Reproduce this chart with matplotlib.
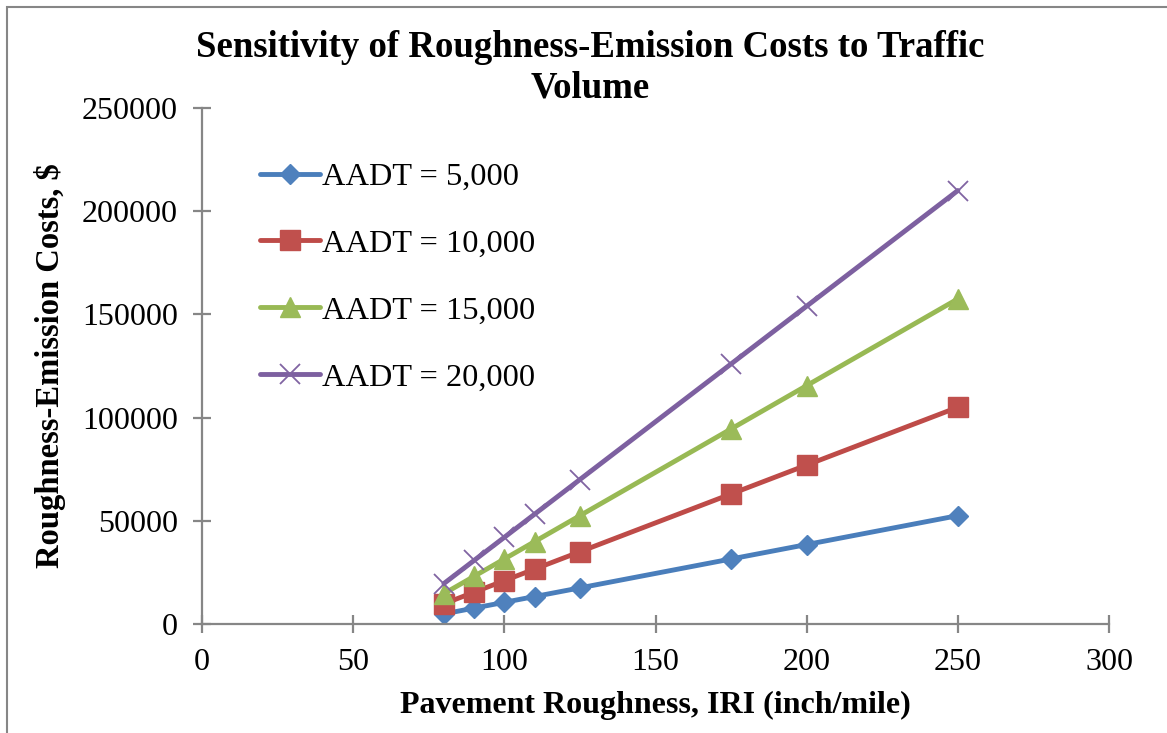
import matplotlib
matplotlib.use("Agg")
import matplotlib.pyplot as plt
from matplotlib.patches import Rectangle

# IRI values (inch/mile) and roughness-emission costs ($) per traffic volume
iri = [80, 90, 100, 110, 125, 175, 200, 250]
cost_5000 = [4900, 7700, 10500, 13300, 17500, 31500, 38500, 52500]
cost_10000 = [9800, 15400, 21000, 26600, 35000, 63000, 77000, 105000]
cost_15000 = [14700, 23100, 31500, 39900, 52500, 94500, 115500, 157500]
cost_20000 = [19600, 30800, 42000, 53200, 70000, 126000, 154000, 210000]
labels = ["AADT = 5,000", "AADT = 10,000", "AADT = 15,000", "AADT = 20,000"]

plt.rcParams["font.family"] = ["Liberation Serif", "DejaVu Serif"]

fig = plt.figure(figsize=(11.67, 7.33), dpi=100)
ax = fig.add_axes([0.1731, 0.1487, 0.7772, 0.7040])

styles = [
    dict(color="#4A7EBB", marker="D", markersize=10.5, mfc="#4F81BD", mec="#4F81BD"),
    dict(color="#BE4B48", marker="s", markersize=14, mfc="#C0504D", mec="#C0504D"),
    dict(color="#98B954", marker="^", markersize=14.5, mfc="#9BBB59", mec="#9BBB59"),
    dict(color="#7D60A0", marker="x", markersize=14.5, mec="#8064A2", mew=1.3),
]
for series, label, style in zip([cost_5000, cost_10000, cost_15000, cost_20000], labels, styles):
    ax.plot(iri, series, linewidth=3.5, label=label, solid_capstyle="round", **style)

ax.set_xlim(0, 300)
ax.set_ylim(0, 250000)
ax.set_xticks(range(0, 301, 50))
ax.set_yticks(range(0, 250001, 50000))

axis_grey = "#868686"
for side in ["top", "right"]:
    ax.spines[side].set_visible(False)
for side in ["left", "bottom"]:
    ax.spines[side].set_color(axis_grey)
    ax.spines[side].set_linewidth(1.6)
ax.tick_params(direction="inout", length=13, width=1.6, color=axis_grey,
               labelsize=23, pad=11)

ax.set_xlabel("Pavement Roughness, IRI (inch/mile)", fontsize=23, fontweight="bold", labelpad=10)
ax.set_ylabel("Roughness-Emission Costs, $", fontsize=23.5, fontweight="bold", labelpad=11)

fig.text(0.506, 0.908, "Sensitivity of Roughness-Emission Costs to Traffic\nVolume",
         ha="center", va="center", fontsize=26.5, fontweight="bold", linespacing=1.2)

ax.legend(loc="upper left", bbox_to_anchor=(0.05, 0.92), frameon=False, fontsize=23.3,
          handlelength=1.85, handletextpad=0.05, labelspacing=1.15, borderaxespad=0)

# chart-area outline along the left and top edges
fig.add_artist(Rectangle((7 / 1167, -0.1), 1.2, 1.1 - 7 / 733, transform=fig.transFigure,
                         fill=False, edgecolor=axis_grey, linewidth=1.5))

fig.savefig("out.png", dpi=100)
